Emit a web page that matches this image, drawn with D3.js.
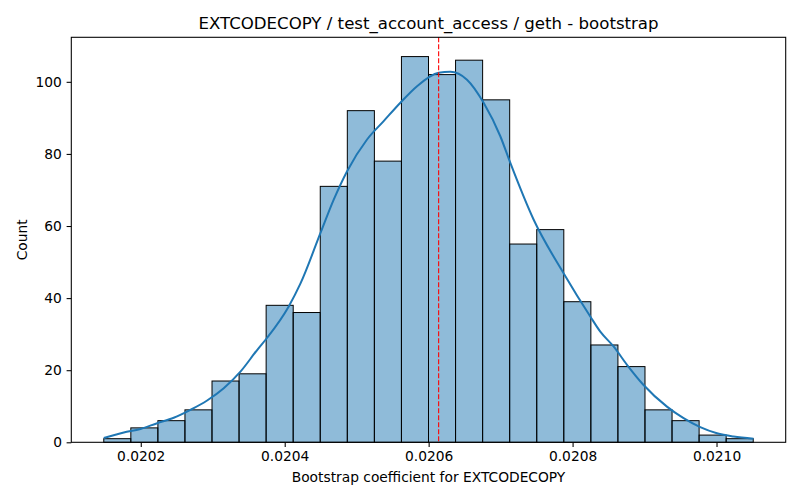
<!DOCTYPE html>
<html>
<head>
<meta charset="utf-8">
<script src="https://cdn.jsdelivr.net/npm/d3@7"></script>
<style>
  body { margin: 0; background: #fff; }
  svg { display: block; font-family: "DejaVu Sans", sans-serif; }
</style>
</head>
<body>
<svg id="chart" width="800" height="500"></svg>
<script>
const binStart = 0.0201486
const binWidth = 0.0000376
const counts = [1, 4, 6, 9, 17, 19, 38, 36, 71, 92, 78, 107, 102, 106, 95, 55, 59, 39, 27, 21, 9, 6, 2, 1]

// kde curve (x value, count)
const kdeX = [0.0201486, 0.0201764, 0.0201996, 0.0202228, 0.0202458, 0.0202690, 0.0202922, 0.0203153,
  0.0203385, 0.0203617, 0.0203756, 0.0204056, 0.0204218, 0.0204496, 0.0204681, 0.0204867, 0.0205144,
  0.0205375, 0.0205607, 0.0205839, 0.0206139, 0.0206301, 0.0206533, 0.0206764, 0.0206996, 0.0207135,
  0.0207458, 0.0207875, 0.0208246, 0.0208385, 0.0208569, 0.0208756, 0.0208986, 0.0209311, 0.0209542,
  0.0209774, 0.0210006, 0.0210236, 0.0210514]
const kdeY = [1.2, 2.7, 3.7, 5.3, 6.8, 9.0, 11.6, 15, 19.6, 25.6, 29, 37.7, 44, 58, 67.3, 75.2, 84,
  89.1, 94.2, 98.8, 102.5, 102.8, 100.6, 94.2, 84.9, 77.5, 61.8, 46.9, 34.9, 30.7, 26.6, 21.5, 15.9,
  9.9, 6.7, 4.2, 2.5, 1.6, 1.0]

const meanValue = 0.0206139
const xTicks = [0.0202, 0.0204, 0.0206, 0.0208, 0.0210]
const yTicks = [0, 20, 40, 60, 80, 100]

const title = "EXTCODECOPY / test_account_access / geth - bootstrap"
const xLabel = "Bootstrap coefficient for EXTCODECOPY"
const yLabel = "Count"

const svg = d3.select("#chart")
const plotL = 71.3, plotR = 785.7, plotT = 37.3, plotB = 442.3

const binEnd = binStart + binWidth * counts.length
const pad = (binEnd - binStart) * 0.05
const x = d3.scaleLinear().domain([binStart - pad, binEnd + pad]).range([plotL, plotR])
const y = d3.scaleLinear().domain([0, d3.max(counts) * 1.05]).range([plotB, plotT])

const bins = counts.map((c, i) => ({ x0: binStart + i * binWidth, x1: binStart + (i + 1) * binWidth, c }))

// bars
svg.append("g")
  .selectAll("rect")
  .data(bins)
  .enter()
  .append("rect")
    .attr("x", d => x(d.x0))
    .attr("y", d => y(d.c))
    .attr("width", d => x(d.x1) - x(d.x0))
    .attr("height", d => y(0) - y(d.c))
    .attr("fill", "rgba(31,119,180,0.5)")
    .attr("stroke", "#000")
    .attr("stroke-width", 1)

// kde line
const line = d3.line()
  .x(d => x(d[0]))
  .y(d => y(d[1]))
  .curve(d3.curveMonotoneX)

svg.append("path")
  .datum(kdeX.map((v, i) => [v, kdeY[i]]))
  .attr("d", line)
  .attr("fill", "none")
  .attr("stroke", "#1f77b4")
  .attr("stroke-width", 2)

// mean line
svg.append("line")
  .attr("x1", x(meanValue)).attr("x2", x(meanValue))
  .attr("y1", plotT).attr("y2", plotB)
  .attr("stroke", "red")
  .attr("stroke-width", 1.1)
  .attr("stroke-dasharray", "4.9,2.1")

// axes
const xAxis = svg.append("g")
  .attr("transform", `translate(0,${plotB})`)
  .call(d3.axisBottom(x).tickValues(xTicks).tickFormat(d3.format(".4f")).tickSize(4.7).tickPadding(4.7))
const yAxis = svg.append("g")
  .attr("transform", `translate(${plotL},0)`)
  .call(d3.axisLeft(y).tickValues(yTicks).tickSize(4.7).tickPadding(4.7))

for (const g of [xAxis, yAxis]) {
  g.select(".domain").remove()
  g.selectAll("line").attr("stroke", "#000").attr("stroke-width", 1.07)
  g.selectAll("text").attr("fill", "#000").style("font-size", "13.8px").style("font-family", "DejaVu Sans")
}

// frame
svg.append("rect")
  .attr("x", plotL).attr("y", plotT)
  .attr("width", plotR - plotL).attr("height", plotB - plotT)
  .attr("fill", "none")
  .attr("stroke", "#000")
  .attr("stroke-width", 1.07)

svg.append("text")
  .attr("x", (plotL + plotR) / 2).attr("y", 29)
  .attr("text-anchor", "middle")
  .style("font-size", "16.6px")
  .text(title)

svg.append("text")
  .attr("x", (plotL + plotR) / 2).attr("y", 482)
  .attr("text-anchor", "middle")
  .style("font-size", "13.8px")
  .text(xLabel)

svg.append("text")
  .attr("transform", `translate(27,${(plotT + plotB) / 2}) rotate(-90)`)
  .attr("text-anchor", "middle")
  .style("font-size", "13.8px")
  .text(yLabel)
</script>
</body>
</html>
